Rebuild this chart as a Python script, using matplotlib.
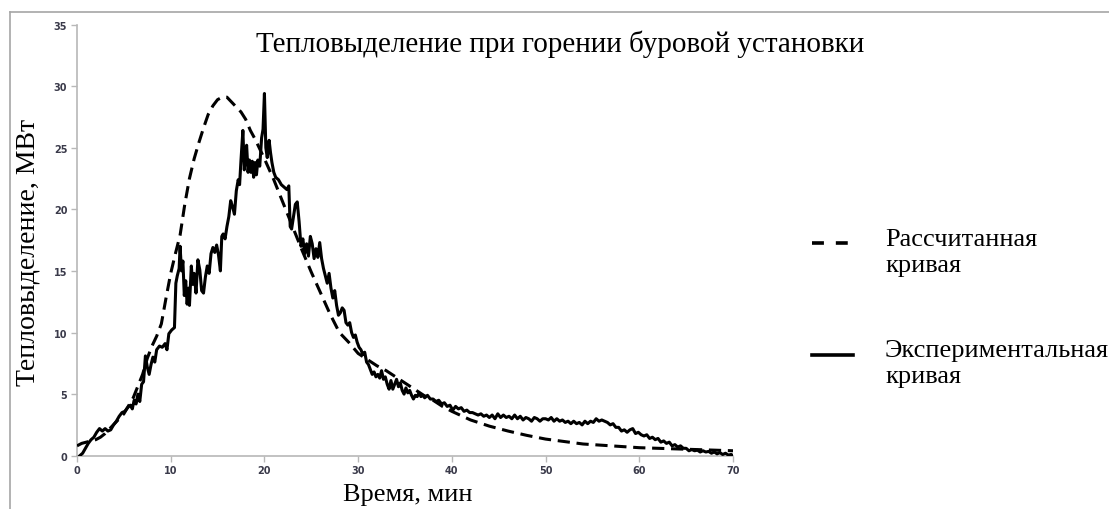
import matplotlib
matplotlib.use("Agg")
import matplotlib.pyplot as plt
from matplotlib.lines import Line2D

# ---------------- data ----------------
title = "Тепловыделение при горении буровой установки"
xlabel = "Время, мин"
ylabel = "Тепловыделение, МВт"
legend_calc = "Рассчитанная\nкривая"
legend_exp = "Экспериментальная\nкривая"

x_ticks = [0, 10, 20, 30, 40, 50, 60, 70]
y_ticks = [0, 5, 10, 15, 20, 25, 30, 35]

calc_t = [0, 0.5, 1, 1.5, 2, 2.5, 3, 4, 5, 6, 7, 7.5, 8, 8.5, 9, 9.5, 10, 10.5,
          11, 11.5, 12, 12.5, 13, 13.5, 14, 14.5, 15, 15.5, 16, 16.5, 17, 17.5,
          18, 18.5, 19, 19.5, 20, 21, 22, 23, 24, 25, 26, 27, 28, 29, 30, 31,
          32, 33, 34, 35, 36, 37, 38, 39, 40, 42, 44, 46, 48, 50, 52, 54, 56,
          58, 60, 62, 64, 66, 68, 70]
calc_q = [0.8, 1.0, 1.1, 1.2, 1.3, 1.5, 1.8, 2.6, 3.4, 4.7, 6.6, 7.9, 8.9, 9.7,
          10.7, 12.8, 14.8, 16.4, 17.9, 20.4, 22.5, 24.1, 25.4, 26.6, 27.7,
          28.4, 28.9, 29.1, 29.1, 28.7, 28.3, 27.9, 27.3, 26.4, 25.7, 24.9,
          24.1, 22.4, 20.5, 18.6, 16.7, 14.9, 13.2, 11.5, 10.0, 9.2, 8.3, 7.8,
          7.3, 6.9, 6.4, 5.9, 5.4, 4.9, 4.5, 4.0, 3.6, 2.9, 2.4, 2.0, 1.65,
          1.35, 1.15, 0.95, 0.85, 0.75, 0.65, 0.6, 0.55, 0.5, 0.45, 0.4]

exp_t = [0.3, 0.6, 0.9, 1.2, 1.5, 1.8, 2.1, 2.4, 2.7, 3.0, 3.3, 3.6, 3.9, 4.2,
         4.5, 4.8, 5.1, 5.4, 5.7, 5.9, 6.1, 6.3, 6.5, 6.7, 6.9, 7.1, 7.3, 7.5,
         7.7, 7.9, 8.1, 8.3, 8.5, 8.8, 9.1, 9.4, 9.6, 9.8, 10.1, 10.4, 10.55,
         10.7, 10.9, 11.0, 11.15, 11.3, 11.45, 11.6, 11.75, 11.9, 12.0, 12.2,
         12.35, 12.5, 12.7, 12.9, 13.1, 13.3, 13.5, 13.7, 13.9, 14.1, 14.3,
         14.5, 14.7, 14.9, 15.1, 15.3, 15.45, 15.6, 15.8, 16.0, 16.2, 16.4,
         16.6, 16.8, 17.0, 17.2, 17.35, 17.5, 17.7, 17.85, 18.0, 18.1, 18.25,
         18.4, 18.55, 18.7, 18.85, 19.0, 19.15, 19.3, 19.5, 19.7, 19.85, 20.0,
         20.15, 20.3, 20.5, 20.65, 20.8, 21.0, 21.2, 21.5, 21.8, 22.1, 22.4,
         22.6, 22.75, 22.9, 23.1, 23.3, 23.5, 23.7, 23.9, 24.1, 24.3, 24.5,
         24.7, 24.9, 25.1, 25.3, 25.5, 25.7, 25.9, 26.1, 26.3, 26.5, 26.7,
         26.9, 27.1, 27.3, 27.5, 27.7, 27.9, 28.1, 28.3, 28.5, 28.7, 28.9,
         29.1, 29.3, 29.5, 29.7, 29.9, 30.1, 30.3, 30.5, 30.7, 30.9, 31.1,
         31.3, 31.5, 31.7, 31.9, 32.1, 32.3, 32.5, 32.7, 32.9, 33.1, 33.3,
         33.5, 33.7, 33.9, 34.1, 34.3, 34.5, 34.7, 34.9, 35.1, 35.3, 35.5,
         35.7, 35.9, 36.1, 36.3, 36.5, 36.7, 36.9, 37.1, 37.4, 37.7, 38.0,
         38.3, 38.6, 38.9, 39.2, 39.5, 39.8, 40.1, 40.4, 40.7, 41.0, 41.3,
         41.6, 41.9, 42.2, 42.5, 42.8, 43.1, 43.4, 43.7, 44.0, 44.3, 44.6,
         44.9, 45.2, 45.5, 45.8, 46.1, 46.4, 46.7, 47.0, 47.3, 47.6, 47.9,
         48.2, 48.5, 48.8, 49.1, 49.4, 49.7, 50.0, 50.3, 50.6, 50.9, 51.2,
         51.5, 51.8, 52.1, 52.4, 52.7, 53.0, 53.3, 53.6, 53.9, 54.2, 54.5,
         54.8, 55.1, 55.4, 55.7, 56.0, 56.3, 56.6, 56.9, 57.2, 57.5, 57.8,
         58.1, 58.4, 58.7, 59.0, 59.3, 59.6, 59.9, 60.2, 60.5, 60.8, 61.1,
         61.4, 61.7, 62.0, 62.3, 62.6, 62.9, 63.2, 63.5, 63.8, 64.1, 64.4,
         64.7, 65.0, 65.3, 65.6, 65.9, 66.2, 66.5, 66.8, 67.1, 67.4, 67.7,
         68.0, 68.3, 68.6, 68.9, 69.2, 69.5, 69.8, 70.0]
exp_q = [0.0, 0.2, 0.6, 1.0, 1.3, 1.5, 1.9, 2.2, 2.0, 2.2, 2.0, 2.1, 2.5, 2.8,
         3.2, 3.5, 3.6, 3.9, 4.1, 3.8, 4.5, 4.2, 5.0, 4.4, 5.8, 6.0, 8.1, 7.2,
         6.6, 7.4, 8.0, 7.6, 8.6, 8.9, 8.8, 9.1, 8.6, 9.9, 10.2, 10.4, 14.0,
         14.6, 15.2, 17.0, 15.0, 15.8, 13.0, 14.2, 12.3, 13.6, 12.2, 15.4,
         13.9, 14.8, 13.2, 15.9, 15.1, 13.4, 13.2, 14.5, 15.4, 14.8, 16.4,
         16.9, 16.5, 17.1, 16.3, 15.0, 17.8, 18.0, 17.6, 18.6, 19.4, 20.7,
         20.2, 19.6, 21.5, 22.4, 22.0, 24.0, 26.4, 23.2, 24.6, 25.2, 23.0,
         24.0, 23.0, 23.9, 22.6, 23.8, 22.8, 24.0, 23.5, 25.8, 26.5, 29.4,
         25.0, 24.2, 25.6, 24.6, 23.8, 23.0, 22.6, 22.4, 22.0, 21.8, 21.6,
         21.9, 18.6, 18.4, 19.4, 20.4, 20.6, 19.0, 17.0, 17.6, 16.4, 17.2,
         16.2, 17.8, 17.2, 16.0, 16.8, 16.1, 17.3, 16.0, 15.2, 14.6, 14.0,
         14.8, 13.6, 12.8, 13.4, 12.2, 11.4, 11.6, 12.0, 11.8, 10.8, 10.6,
         10.8, 10.0, 9.6, 9.8, 9.2, 8.8, 8.6, 8.2, 8.4, 7.6, 7.4, 7.0, 6.6,
         6.8, 6.4, 6.6, 6.3, 6.9, 6.2, 6.4, 5.8, 5.4, 6.1, 5.4, 5.8, 6.2,
         5.6, 5.9, 5.3, 5.0, 5.5, 5.1, 5.3, 4.9, 4.6, 4.9, 4.8, 5.1, 4.8,
         4.9, 4.7, 4.9, 4.6, 4.6, 4.4, 4.5, 4.2, 4.3, 4.0, 4.1, 3.7, 4.0,
         3.8, 3.9, 3.6, 3.7, 3.5, 3.5, 3.4, 3.3, 3.4, 3.2, 3.3, 3.1, 3.3,
         3.0, 3.4, 3.1, 3.3, 3.1, 3.2, 3.0, 3.3, 3.0, 3.2, 2.9, 3.1, 3.0,
         2.8, 3.1, 3.0, 2.8, 3.0, 3.0, 2.9, 3.1, 2.8, 3.0, 2.8, 2.9, 2.7,
         2.8, 2.6, 2.8, 2.6, 2.7, 2.5, 2.8, 2.6, 2.8, 2.7, 3.0, 2.8, 2.9,
         2.8, 2.7, 2.5, 2.6, 2.3, 2.3, 2.0, 2.1, 1.9, 2.1, 2.2, 1.8, 1.9,
         1.7, 1.6, 1.7, 1.4, 1.5, 1.3, 1.4, 1.1, 1.2, 1.0, 1.1, 0.8, 0.9,
         0.7, 0.8, 0.6, 0.6, 0.4, 0.5, 0.4, 0.45, 0.3, 0.4, 0.3, 0.35, 0.2,
         0.3, 0.15, 0.25, 0.1, 0.2, 0.05, 0.1, 0.0]

# ---------------- figure ----------------
W, H = 1109, 510
fig = plt.figure(figsize=(W / 100, H / 100), dpi=100)
fig.patch.set_facecolor("white")

serif = ["Liberation Serif", "DejaVu Serif"]

ax = fig.add_axes([77 / W, 1 - 456.7 / H, (733 - 77) / W, (456.7 - 25.5) / H])
ax.plot(calc_t, calc_q, color="black", lw=2.2, dashes=(4, 2.2), zorder=3)
ax.plot(exp_t, exp_q, color="black", lw=2.2, solid_joinstyle="round", zorder=4)

ax.set_xlim(0, 70)
ax.set_ylim(0, 35)
ax.set_xticks(x_ticks)
ax.set_yticks(y_ticks)
for s in ["top", "right"]:
    ax.spines[s].set_visible(False)
for s in ["left", "bottom"]:
    ax.spines[s].set_color("#b8b8b8")
    ax.spines[s].set_linewidth(1.2)
ax.tick_params(axis="both", colors="#b8b8b8", labelcolor="#3a3a4a",
               labelsize=7, length=4, width=1.0, pad=3)
for lab in ax.get_xticklabels() + ax.get_yticklabels():
    lab.set_fontweight("bold")
ax.patch.set_alpha(0)

# titles / labels
fig.text(560 / W, 1 - 44 / H, title, family=serif, fontsize=21,
         ha="center", va="center")
fig.text(408 / W, 1 - 495 / H, xlabel, family=serif, fontsize=19,
         ha="center", va="center")
fig.text(28 / W, 1 - 252 / H, ylabel, family=serif, fontsize=20,
         ha="center", va="center", rotation=90)

# legend (custom)
fig.add_artist(Line2D([812 / W, 848 / W], [1 - 244 / H, 1 - 244 / H],
                      color="black", lw=2.6, dashes=(3.3, 3.3)))
fig.add_artist(Line2D([812 / W, 853 / W], [1 - 356 / H, 1 - 356 / H],
                      color="black", lw=2.6))
fig.text(885 / W, 1 - 253 / H, legend_calc, family=serif, fontsize=19,
         ha="left", va="center", linespacing=1.25)
fig.text(885 / W, 1 - 364 / H, legend_exp, family=serif, fontsize=19,
         ha="left", va="center", linespacing=1.25)

# outer gray frame (top and left)
fig.add_artist(Line2D([10 / W, 1.0], [1 - 13 / H, 1 - 13 / H],
                      color="#a6a6a6", lw=1.2))
fig.add_artist(Line2D([10 / W, 10 / W], [0, 1 - 13 / H],
                      color="#a6a6a6", lw=1.2))

fig.savefig("out.png", dpi=100)
